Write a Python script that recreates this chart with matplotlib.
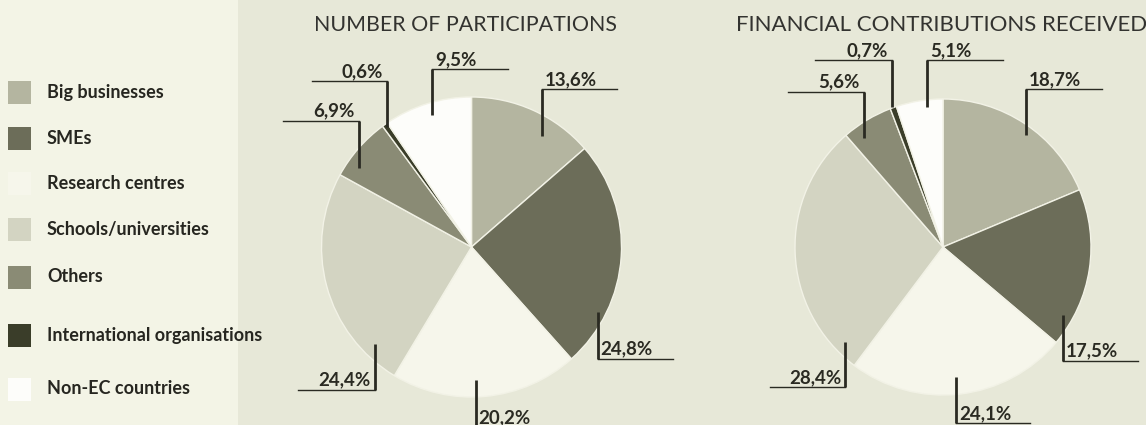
import matplotlib.pyplot as plt
from matplotlib.patches import Rectangle

plt.rcParams['font.family'] = ['Lato', 'DejaVu Sans']

W, H = 1146, 425

# ---- data ----
categories = ["Big businesses", "SMEs", "Research centres", "Schools/universities",
              "Others", "International organisations", "Non-EC countries"]
participations = [13.6, 24.8, 20.2, 24.4, 6.9, 0.6, 9.5]
contributions = [18.7, 17.5, 24.1, 28.4, 5.6, 0.7, 5.1]
titles = ["NUMBER OF PARTICIPATIONS", "FINANCIAL CONTRIBUTIONS RECEIVED"]

# ---- style / layout (pixel units, y measured from the top) ----
colors = ["#b4b5a0", "#6c6d59", "#f6f6eb", "#d3d4c2", "#8a8b75", "#3a3d29", "#fdfdfa"]
BG = "#e7e8d8"
PANEL = "#f3f4e6"
INK = "#2a2a22"

pie_centers = [(471.5, 247), (943, 247)]
pie_radius = [150, 148]
title_pos = [(466, 31), (942, 31)]
title_size = [15.4, 16]

# leader lines: (corner x, corner y, inner tip y, horizontal end x)
leaders = [
    [(541.5, 89, 136, 616.5), (597.5, 358.5, 311.5, 673), (475.5, 427, 380, 550),
     (374.5, 389.5, 343.5, 298), (359, 120.5, 167.5, 283), (386.5, 81, 126.5, 311.5),
     (432, 69, 115, 508)],
    [(1026, 89.3, 135, 1101.5), (1062.5, 360.5, 315, 1138), (956, 423, 376.5, 1030),
     (845, 387.3, 341.7, 770), (864, 91.7, 138.3, 788.3), (891.7, 60, 106.7, 815),
     (926.7, 60, 106.7, 1003.3)],
]

legend_y = [92.5, 138, 183, 229, 277, 335, 389]


def fy(y):
    return H - y


fig = plt.figure(figsize=(W / 100, H / 100), dpi=100)
fig.patch.set_facecolor(BG)
ax = fig.add_axes([0, 0, 1, 1])

ax.add_patch(Rectangle((0, 0), 238, H, color=PANEL, zorder=0, lw=0))

for i, values in enumerate([participations, contributions]):
    cx, cy = pie_centers[i]
    ax.pie(values, colors=colors, startangle=90, counterclock=False,
           center=(cx, fy(cy)), radius=pie_radius[i],
           wedgeprops=dict(edgecolor="#f2f2e6", linewidth=1))
    tx, ty = title_pos[i]
    ax.text(tx, fy(ty), titles[i], ha="center", va="baseline",
            fontsize=title_size[i], color="#333330")
    for v, (lx, ly, tip, ex) in zip(values, leaders[i]):
        ax.plot([lx, lx], [fy(ly), fy(tip)], color=INK, lw=2, solid_capstyle="butt", zorder=5)
        ax.plot([lx, ex], [fy(ly), fy(ly)], color=INK, lw=1, zorder=5)
        label = f"{v:.1f}%".replace(".", ",")
        if ex > lx:
            ax.text(lx + 3, fy(ly - 4), label, ha="left", va="baseline",
                    fontsize=13.5, fontweight="bold", color=INK, zorder=6)
        else:
            ax.text(lx - 4, fy(ly - 4), label, ha="right", va="baseline",
                    fontsize=13.5, fontweight="bold", color=INK, zorder=6)

# legend
for name, col, y in zip(categories, colors, legend_y):
    ax.add_patch(Rectangle((8, fy(y) - 11.5), 23, 23, color=col, lw=0, zorder=3))
    ax.text(47, fy(y), name, ha="left", va="center", fontsize=13,
            fontweight="bold", color="#262620", zorder=3)

ax.set_xlim(0, W)
ax.set_ylim(0, H)
ax.set_aspect("equal")
ax.axis("off")
ax.set_position([0, 0, 1, 1])

fig.savefig("out.png", dpi=100, facecolor=BG)
